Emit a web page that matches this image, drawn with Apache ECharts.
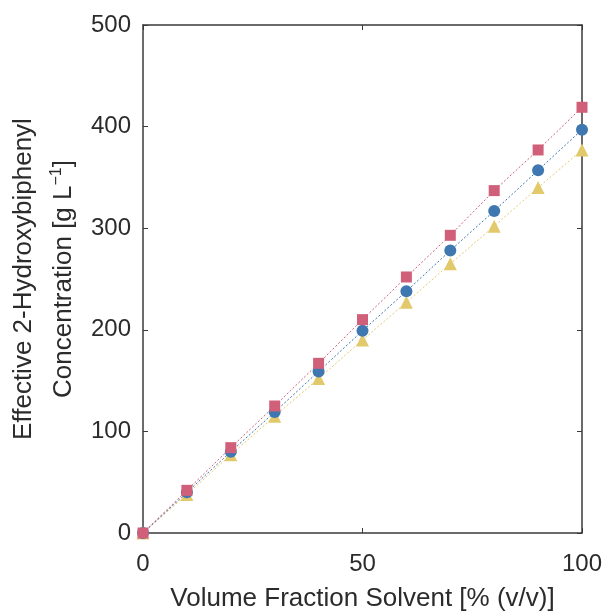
<!DOCTYPE html>
<html>
<head>
<meta charset="utf-8">
<script src="https://cdn.jsdelivr.net/npm/echarts@6/dist/echarts.min.js"></script>
<style>
  html, body { margin: 0; padding: 0; background: #fff; }
  #chart { width: 604px; height: 612px; }
</style>
</head>
<body>
<div id="chart"></div>
<script>
// Volume fraction of solvent (% v/v)
const volumeFraction = [0, 10, 20, 30, 40, 50, 60, 70, 80, 90, 100];
// Effective 2-hydroxybiphenyl concentration (g/L) for three solvents
const seriesSquare   = [0, 42, 84, 125, 167, 210, 252, 293, 337, 377, 419];
const seriesCircle   = [0, 40, 80, 119, 159, 199, 238, 278, 317, 357, 397];
const seriesTriangle = [0, 38, 77, 115, 152, 190, 227, 265, 302, 340, 377];

const FONT = 'Liberation Sans, Arial, sans-serif';
const AXIS_COLOR = '#3a3a3a';
const TEXT_COLOR = '#2b2b2b';

const chart = echarts.init(document.getElementById('chart'), null, { renderer: 'canvas' });

function pairs(ys) {
  return volumeFraction.map((x, i) => [x, ys[i]]);
}

function makeSeries(name, ys, symbol, size, color) {
  return {
    name: name,
    type: 'line',
    data: pairs(ys),
    symbol: symbol,
    symbolSize: size,
    showAllSymbol: true,
    lineStyle: { color: color, width: 1, type: [2, 2] },
    itemStyle: { color: color, opacity: 1 },
    emphasis: { disabled: true },
    animation: false,
    z: 3
  };
}

const lineStyle = { color: AXIS_COLOR, width: 1.5 };
const tickStyle = { show: true, inside: true, length: 5, lineStyle: { color: AXIS_COLOR, width: 1 } };

chart.setOption({
  animation: false,
  grid: { left: 143, right: 22, top: 25, bottom: 79, outerBoundsMode: 'none', containLabel: false },
  xAxis: [{
    type: 'value',
    min: 0, max: 100, interval: 50,
    name: 'Volume Fraction Solvent [% (v/v)]',
    nameLocation: 'middle',
    nameGap: 53,
    nameMoveOverlap: false,
    nameTextStyle: { fontFamily: FONT, fontSize: 26, color: TEXT_COLOR },
    axisLine: { show: true, onZero: false, lineStyle: lineStyle },
    axisTick: tickStyle,
    axisLabel: { fontFamily: FONT, fontSize: 24, color: TEXT_COLOR, margin: 19 },
    splitLine: { show: false }
  }, {
    type: 'value',
    position: 'top',
    min: 0, max: 100, interval: 50,
    axisLine: { show: true, onZero: false, lineStyle: lineStyle },
    axisTick: tickStyle,
    axisLabel: { show: false },
    splitLine: { show: false }
  }],
  yAxis: [{
    type: 'value',
    min: 0, max: 500, interval: 100,
    name: '{a|Effective 2-Hydroxybiphenyl}\n{a|Concentration [g L}{sup|−1}{a|]}',
    nameLocation: 'middle',
    nameGap: 59,
    nameMoveOverlap: false,
    nameTextStyle: {
      fontFamily: FONT, fontSize: 26, color: TEXT_COLOR, lineHeight: 40,
      rich: {
        a: { fontFamily: FONT, fontSize: 26, color: TEXT_COLOR, lineHeight: 40 },
        sup: { fontFamily: FONT, fontSize: 16, color: TEXT_COLOR, lineHeight: 40, padding: [0, 0, 14, 0] }
      }
    },
    axisLine: { show: true, onZero: false, lineStyle: lineStyle },
    axisTick: tickStyle,
    axisLabel: { fontFamily: FONT, fontSize: 24, color: TEXT_COLOR, margin: 12 },
    splitLine: { show: false }
  }, {
    type: 'value',
    position: 'right',
    min: 0, max: 500, interval: 100,
    axisLine: { show: true, onZero: false, lineStyle: lineStyle },
    axisTick: tickStyle,
    axisLabel: { show: false },
    splitLine: { show: false }
  }],
  series: [
    makeSeries('triangle', seriesTriangle, 'triangle', 13, '#E2CA6C'),
    makeSeries('circle', seriesCircle, 'circle', 12, '#3F77B1'),
    makeSeries('square', seriesSquare, 'rect', 11, '#D0607A')
  ]
});
</script>
</body>
</html>
